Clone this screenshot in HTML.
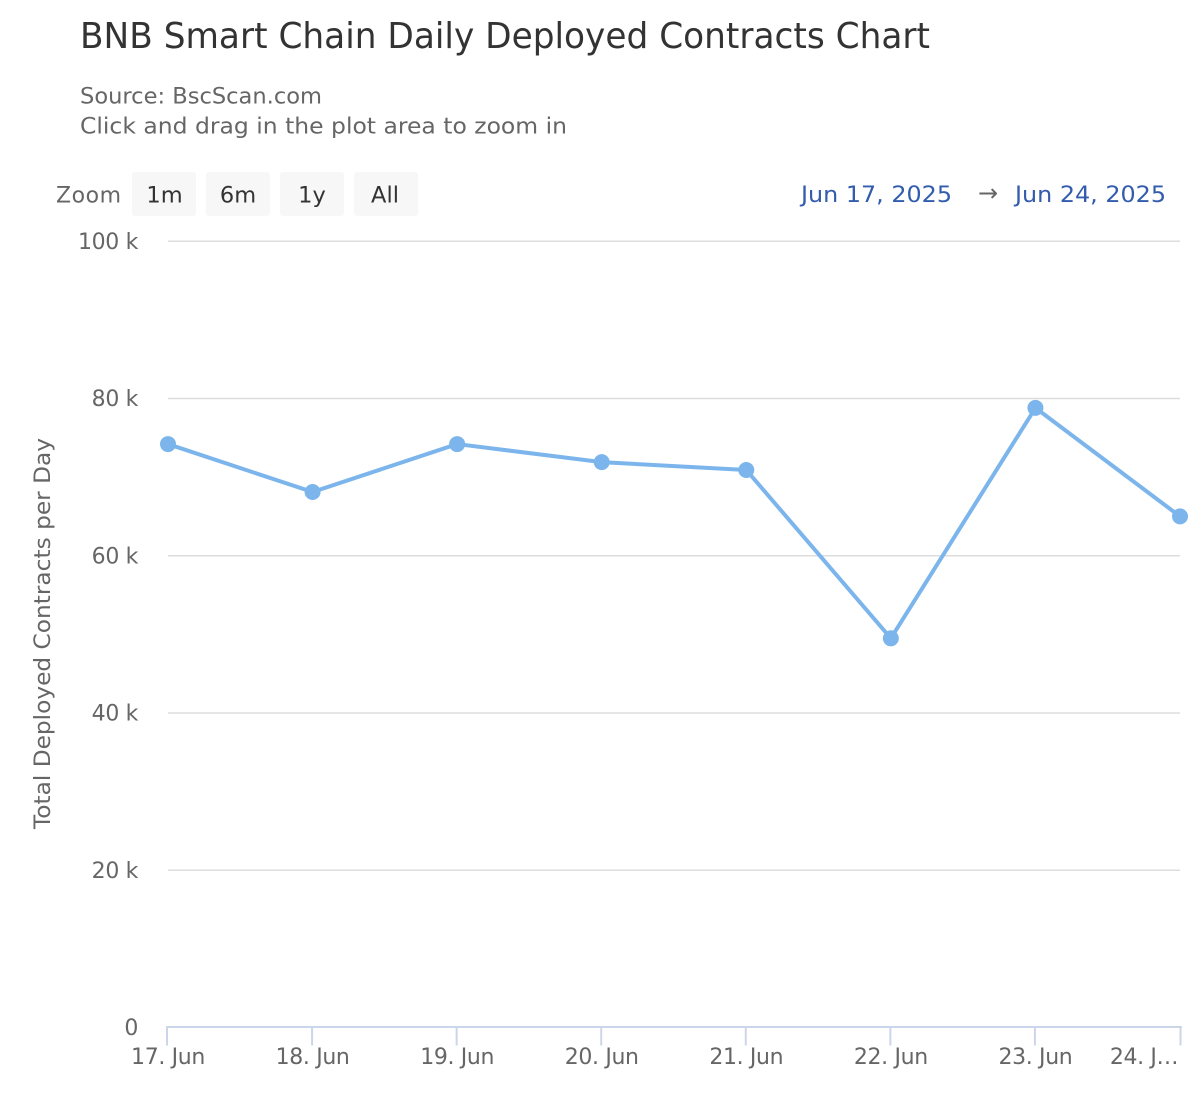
<!DOCTYPE html>
<html lang="en">
<head>
<meta charset="utf-8">
<title>BNB Smart Chain Daily Deployed Contracts Chart</title>
<style>
html,body{margin:0;padding:0;background:#fff;width:1200px;height:1100px;overflow:hidden}
svg{display:block}
text{font-family:"DejaVu Sans","Liberation Sans",sans-serif}
.tick-text{letter-spacing:-0.35px}
</style>
</head>
<body>
<svg id="chart" xmlns="http://www.w3.org/2000/svg" width="1200" height="1100" viewBox="0 0 1200 1100">
  <rect x="0" y="0" width="1200" height="1100" fill="#ffffff"/>
  <text x="80" y="48" font-size="35.5" fill="#333333" textLength="850" lengthAdjust="spacingAndGlyphs">BNB Smart Chain Daily Deployed Contracts Chart</text>
  <text x="80" y="103.5" font-size="22.5" fill="#666666" textLength="242" lengthAdjust="spacingAndGlyphs">Source: BscScan.com</text>
  <text x="80" y="133.5" font-size="22.5" fill="#666666" textLength="487" lengthAdjust="spacingAndGlyphs">Click and drag in the plot area to zoom in</text>

  <text x="56" y="202.5" font-size="22" fill="#666666" textLength="65">Zoom</text>
  <g>
    <rect x="132" y="172" width="64" height="44" rx="3" fill="#f7f7f7"/>
    <text x="164.5" y="202.5" font-size="22.5" fill="#333333" text-anchor="middle">1m</text>
  </g>
  <g>
    <rect x="206" y="172" width="64" height="44" rx="3" fill="#f7f7f7"/>
    <text x="238" y="202.5" font-size="22.5" fill="#333333" text-anchor="middle">6m</text>
  </g>
  <g>
    <rect x="280" y="172" width="64" height="44" rx="3" fill="#f7f7f7"/>
    <text x="312" y="202.5" font-size="22.5" fill="#333333" text-anchor="middle">1y</text>
  </g>
  <g>
    <rect x="354" y="172" width="64" height="44" rx="3" fill="#f7f7f7"/>
    <text x="385" y="202.5" font-size="22.5" fill="#333333" text-anchor="middle">All</text>
  </g>

  <text x="801" y="202" font-size="22.5" fill="#335cad" textLength="151" lengthAdjust="spacingAndGlyphs">Jun 17, 2025</text>
  <text x="988" y="201" font-size="24" fill="#666666" text-anchor="middle">→</text>
  <text x="1015" y="202" font-size="22.5" fill="#335cad" textLength="151" lengthAdjust="spacingAndGlyphs">Jun 24, 2025</text>

  <g id="grid"></g>
  <g id="y-labels"></g>
  <text transform="translate(50,829) rotate(-90)" font-size="22.5" fill="#666666" textLength="391" lengthAdjust="spacingAndGlyphs">Total Deployed Contracts per Day</text>
  <g id="x-axis"></g>
  <g id="series"></g>
</svg>
<script>
var categories = ['17. Jun', '18. Jun', '19. Jun', '20. Jun', '21. Jun', '22. Jun', '23. Jun', '24. J…'];
var contractsPerDay = [74200, 68100, 74200, 71900, 70900, 49500, 78800, 65000];
var yTickValues = [0, 20000, 40000, 60000, 80000, 100000];
var yTickLabels = ['0', '20 k', '40 k', '60 k', '80 k', '100 k'];

var SVG_NS = 'http://www.w3.org/2000/svg';
var plotLeft = 168, plotRight = 1180, plotTop = 241.2, plotBottom = 1027.5, yMax = 100000;

function xScale(i) {
  return plotLeft + i * (plotRight - plotLeft) / (categories.length - 1);
}
function yScale(v) {
  return plotBottom - v / yMax * (plotBottom - plotTop);
}
function make(tag, attrs, parent) {
  var el = document.createElementNS(SVG_NS, tag);
  for (var k in attrs) el.setAttribute(k, attrs[k]);
  parent.appendChild(el);
  return el;
}

var grid = document.getElementById('grid');
var yLabels = document.getElementById('y-labels');
yTickValues.forEach(function (v, i) {
  var y = yScale(v);
  if (v !== 0) {
    var line = make('line', {x1: plotLeft, x2: plotRight, y1: y, y2: y, stroke: '#dddddd', 'stroke-width': 1.5}, grid);
    
    
  }
  var label = make('text', {x: 138, y: y + 7.6, 'font-size': 22, fill: '#666666', 'text-anchor': 'end', 'class': 'tick-text'}, yLabels);
  label.textContent = yTickLabels[i];
  
  
});

var xAxis = document.getElementById('x-axis');
var axisLine = make('line', {x1: plotLeft - 2, x2: plotRight + 2, y1: plotBottom - 0.5, y2: plotBottom - 0.5, stroke: '#ccd6eb', 'stroke-width': 2}, xAxis);


categories.forEach(function (c, i) {
  var x = xScale(i);
  var tx = i === 0 ? x - 1 : (i === categories.length - 1 ? x + 0.5 : x - 0.5);
  var tick = make('line', {x1: tx, x2: tx, y1: plotBottom - 0.5, y2: plotBottom + 18, stroke: '#ccd6eb', 'stroke-width': 2}, xAxis);
  
  
  var labelX = i === categories.length - 1 ? x - 36 : x;
  var label = make('text', {x: labelX, y: 1064, 'font-size': 22, fill: '#666666', 'text-anchor': 'middle', 'class': 'tick-text'}, xAxis);
  label.textContent = c;
  
  
});

var series = document.getElementById('series');
var points = contractsPerDay.map(function (v, i) {
  return xScale(i) + ',' + yScale(v);
}).join(' ');
var seriesLine = make('polyline', {points: points, fill: 'none', stroke: '#7cb5ec', 'stroke-width': 4, 'stroke-linejoin': 'round', 'stroke-linecap': 'round'}, series);


contractsPerDay.forEach(function (v, i) {
  var dot = make('circle', {cx: xScale(i), cy: yScale(v), r: 8, fill: '#7cb5ec'}, series);
  
  
});
</script>
</body>
</html>
